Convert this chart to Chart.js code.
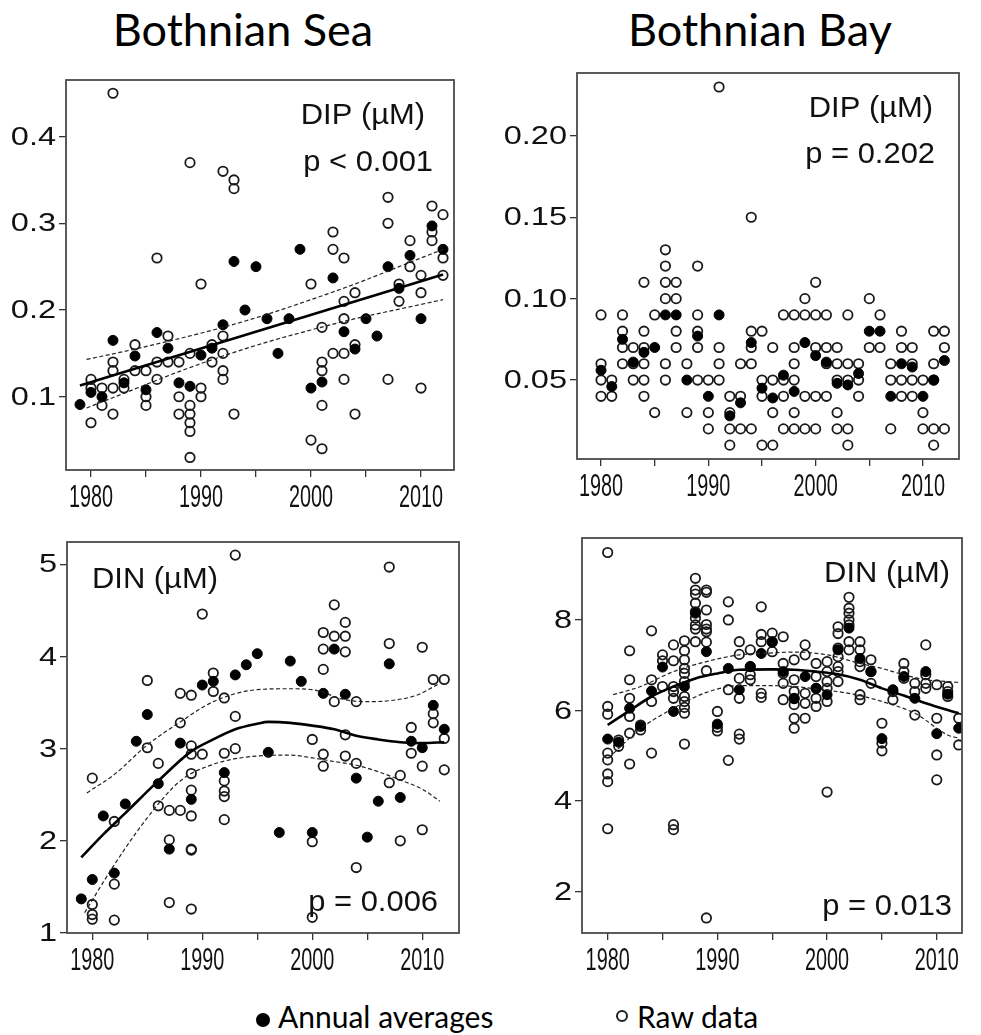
<!DOCTYPE html>
<html>
<head>
<meta charset="utf-8">
<script src="https://cdn.jsdelivr.net/npm/chart.js@4.4.1/dist/chart.umd.min.js"></script>
<style>
  html, body { margin: 0; padding: 0; background: #fff; }
  body { width: 981px; height: 1035px; position: relative; overflow: hidden; }
  .title { position: absolute; top: 2px; width: 440px; text-align: center; line-height: 54px;
           font-family: Lato, "Open Sans", sans-serif; font-size: 45px; color: #000; }
  canvas { position: absolute; }
  .leg { position: absolute; font-family: Lato, "Open Sans", sans-serif; font-size: 30px; line-height: 36px;
         color: #000; white-space: nowrap; }
  .mark { position: absolute; border-radius: 50%; box-sizing: border-box; }
</style>
</head>
<body>
<div class="title" style="left:23px">Bothnian Sea</div>
<div class="title" style="left:540px">Bothnian Bay</div>

<canvas id="seaDip"></canvas>
<canvas id="bayDip"></canvas>
<canvas id="seaDin"></canvas>
<canvas id="bayDin"></canvas>

<div class="mark" style="left:256px;top:1013px;width:14px;height:14px;background:#000"></div>
<div class="leg" style="left:278px;top:998px">Annual averages</div>
<div class="mark" style="left:616px;top:1010px;width:12px;height:12px;border:2px solid #222"></div>
<div class="leg" style="left:637px;top:998px">Raw data</div>

<script>
// ---- shared axis ticks ----
const YEAR_TICKS = [1980, 1985, 1990, 1995, 2000, 2005, 2010];
const YEAR_LABELS = [1980, 1990, 2000, 2010];

// ---- Bothnian Sea, DIP (µM) ----
const SEA_DIP_TICKS = [0.1, 0.2, 0.3, 0.4];
const SEA_DIP_RAW = [
  [1980, [0.12, 0.11, 0.07]], [1981, [0.11, 0.09]], [1982, [0.45, 0.14, 0.13, 0.11, 0.08]],
  [1983, [0.12, 0.11]], [1984, [0.16, 0.13]], [1985, [0.13, 0.10, 0.09]],
  [1986, [0.26, 0.14, 0.12]], [1987, [0.17, 0.14]], [1988, [0.14, 0.10, 0.08]],
  [1989, [0.37, 0.15, 0.09, 0.08, 0.07, 0.06, 0.03]], [1990, [0.23, 0.11, 0.10]],
  [1991, [0.16, 0.14]], [1992, [0.36, 0.17, 0.15, 0.13, 0.12]], [1993, [0.35, 0.34, 0.08]],
  [2000, [0.23, 0.05]], [2001, [0.18, 0.14, 0.13, 0.09, 0.04]], [2002, [0.29, 0.27, 0.15]],
  [2003, [0.26, 0.21, 0.19, 0.15, 0.12]], [2004, [0.22, 0.16, 0.08]],
  [2007, [0.33, 0.30, 0.12]], [2008, [0.23, 0.21]], [2009, [0.28, 0.25]],
  [2010, [0.24, 0.22, 0.11]], [2011, [0.32, 0.29, 0.28]], [2012, [0.31, 0.26, 0.24]]
];
const SEA_DIP_AVG_YEARS = [1979, 1980, 1981, 1982, 1983, 1984, 1985, 1986, 1987, 1988, 1989, 1990, 1991, 1992, 1993, 1994,
  1995, 1996, 1997, 1998, 1999, 2000, 2001, 2002, 2003, 2004, 2005, 2006, 2007, 2008, 2009, 2010, 2011, 2012];
const SEA_DIP_AVG = [0.091, 0.105, 0.100, 0.165, 0.116, 0.147, 0.108, 0.174, 0.156, 0.116, 0.112, 0.148, 0.156, 0.183, 0.256, 0.200,
  0.250, 0.190, 0.150, 0.190, 0.270, 0.110, 0.117, 0.237, 0.175, 0.155, 0.190, 0.170, 0.250, 0.225, 0.263, 0.190, 0.297, 0.270];
const SEA_DIP_FIT_YEARS = [1979, 2012];
const SEA_DIP_FIT = [0.113, 0.241];
const SEA_DIP_BAND_YEARS = [1979.6, 1984, 1988, 1992, 1996, 2000, 2004, 2008, 2012];
const SEA_DIP_UPPER = [0.143, 0.155, 0.167, 0.180, 0.195, 0.212, 0.230, 0.250, 0.270];
const SEA_DIP_LOWER = [0.087, 0.109, 0.129, 0.147, 0.163, 0.177, 0.190, 0.201, 0.212];

// ---- Bothnian Bay, DIP (µM) ----
const BAY_DIP_TICKS = [0.05, 0.10, 0.15, 0.20];
const BAY_DIP_RAW = [
  [1980, [0.09, 0.06, 0.05, 0.04]], [1981, [0.05, 0.04]], [1982, [0.09, 0.08, 0.07, 0.06]],
  [1983, [0.07, 0.06, 0.05]], [1984, [0.11, 0.08, 0.07, 0.06, 0.05, 0.04]], [1985, [0.09, 0.03]],
  [1986, [0.13, 0.12, 0.11, 0.10, 0.06, 0.05]], [1987, [0.11, 0.10, 0.08, 0.07]], [1988, [0.06, 0.03]],
  [1989, [0.12, 0.09, 0.08, 0.07, 0.05]], [1990, [0.05, 0.03, 0.02]], [1991, [0.23, 0.07, 0.06, 0.05]],
  [1992, [0.04, 0.03, 0.02, 0.01]], [1993, [0.06, 0.04, 0.02]], [1994, [0.15, 0.08, 0.07, 0.06, 0.02]],
  [1995, [0.08, 0.05, 0.04, 0.01]], [1996, [0.07, 0.05, 0.03, 0.01]], [1997, [0.09, 0.05, 0.04, 0.02]],
  [1998, [0.09, 0.07, 0.06, 0.05, 0.03, 0.02]], [1999, [0.10, 0.09, 0.04, 0.02]],
  [2000, [0.11, 0.09, 0.07, 0.04, 0.02]], [2001, [0.09, 0.07, 0.06, 0.04]],
  [2002, [0.07, 0.06, 0.05, 0.03, 0.02]], [2003, [0.09, 0.06, 0.05, 0.02, 0.01]],
  [2004, [0.06, 0.05, 0.04]], [2005, [0.10, 0.07]], [2006, [0.09, 0.07]], [2007, [0.06, 0.05, 0.02]],
  [2008, [0.08, 0.07, 0.05, 0.04]], [2009, [0.07, 0.06, 0.05, 0.04]], [2010, [0.05, 0.03, 0.02]],
  [2011, [0.08, 0.06, 0.05, 0.02, 0.01]], [2012, [0.08, 0.07, 0.02]]
];
const BAY_DIP_AVG_YEARS = [1980, 1981, 1982, 1983, 1984, 1985, 1986, 1987, 1988, 1989, 1990, 1991, 1992, 1993, 1994, 1995,
  1996, 1997, 1998, 1999, 2000, 2001, 2002, 2003, 2004, 2005, 2006, 2007, 2008, 2009, 2010, 2011, 2012];
const BAY_DIP_AVG = [0.056, 0.046, 0.075, 0.061, 0.067, 0.070, 0.090, 0.090, 0.050, 0.077, 0.040, 0.090, 0.028, 0.036, 0.073, 0.045,
  0.039, 0.053, 0.043, 0.073, 0.065, 0.061, 0.048, 0.047, 0.054, 0.080, 0.080, 0.040, 0.060, 0.058, 0.040, 0.050, 0.062];

// ---- Bothnian Sea, DIN (µM) ----
const SEA_DIN_TICKS = [1, 2, 3, 4, 5];
const SEA_DIN_RAW = [
  [1980, [2.68, 1.31, 1.20, 1.15]], [1982, [2.21, 1.53, 1.14]], [1985, [3.74, 3.01]], [1986, [2.84, 2.38]],
  [1987, [2.33, 2.01, 1.33]], [1988, [3.60, 3.28, 2.33]],
  [1989, [3.58, 3.03, 2.94, 2.73, 2.55, 2.27, 1.91, 1.90, 1.26]], [1990, [4.46, 2.94]], [1991, [3.82, 3.62]],
  [1992, [3.55, 2.95, 2.65, 2.54, 2.48, 2.23]], [1993, [5.10, 3.35, 3.00]],
  [2000, [3.10, 1.99, 1.17]], [2001, [4.26, 4.08, 3.86, 2.94, 2.81]], [2002, [4.56, 4.22, 3.51]],
  [2003, [4.37, 4.22, 4.05, 3.15, 2.92]], [2004, [3.51, 2.84, 1.71]], [2007, [4.97, 4.14, 2.63]],
  [2008, [2.71, 2.00]], [2009, [3.23, 2.95]], [2010, [4.10, 2.81, 2.12]], [2011, [3.75, 3.38, 3.28]],
  [2012, [3.75, 3.11, 2.77]]
];
const SEA_DIN_AVG_YEARS = [1979, 1980, 1981, 1982, 1983, 1984, 1985, 1986, 1987, 1988, 1989, 1990, 1991, 1992, 1993, 1994,
  1995, 1996, 1997, 1998, 1999, 2000, 2001, 2002, 2003, 2004, 2005, 2006, 2007, 2008, 2009, 2010, 2011, 2012];
const SEA_DIN_AVG = [1.37, 1.58, 2.27, 1.65, 2.40, 3.08, 3.37, 2.62, 1.91, 3.06, 2.45, 3.69, 3.73, 2.74, 3.80, 3.91,
  4.03, 2.96, 2.09, 3.95, 3.73, 2.09, 3.60, 4.08, 3.59, 2.68, 2.04, 2.43, 3.92, 2.47, 3.08, 3.01, 3.47, 3.21];
const SEA_DIN_FIT_YEARS = [1979, 1981, 1983, 1986, 1989, 1991, 1993, 1995, 1996, 1998, 2000, 2002, 2004, 2006, 2008, 2010, 2012];
const SEA_DIN_FIT = [1.82, 2.07, 2.30, 2.65, 2.97, 3.10, 3.21, 3.27, 3.29, 3.28, 3.25, 3.21, 3.14, 3.10, 3.07, 3.06, 3.07];
const SEA_DIN_UPPER_YEARS = [1979.5, 1982, 1985, 1988, 1991, 1995, 1998, 2000, 2003, 2005, 2007, 2009.5, 2011.6];
const SEA_DIN_UPPER = [2.52, 2.72, 3.04, 3.29, 3.51, 3.64, 3.65, 3.64, 3.53, 3.51, 3.52, 3.58, 3.71];
const SEA_DIN_LOWER_YEARS = [1979.3, 1982, 1985, 1988, 1991, 1995, 1998, 2000, 2002, 2004, 2006, 2008, 2010, 2011.6];
const SEA_DIN_LOWER = [1.22, 1.74, 2.25, 2.65, 2.83, 2.92, 2.93, 2.90, 2.86, 2.82, 2.75, 2.66, 2.56, 2.43];

// ---- Bothnian Bay, DIN (µM) ----
const BAY_DIN_TICKS = [2, 4, 6, 8];
const BAY_DIN_RAW = [
  [1980, [9.49, 6.09, 5.92, 5.06, 4.91, 4.60, 4.43, 3.39]], [1981, [5.35, 5.21]],
  [1982, [7.32, 6.68, 6.27, 5.87, 5.50, 4.82]], [1983, [5.68, 5.57]], [1984, [7.76, 6.68, 6.20, 5.06]],
  [1985, [7.23, 7.10, 6.53]], [1986, [7.45, 7.10, 6.53, 6.42, 6.27, 3.48, 3.37]],
  [1987, [7.54, 7.32, 7.12, 6.93, 6.82, 6.64, 6.31, 6.20, 6.07, 5.94, 5.26]],
  [1988, [8.92, 8.66, 8.57, 8.37, 8.18, 8.04, 7.89, 7.80, 7.52]],
  [1989, [8.66, 8.61, 8.22, 7.90, 7.80, 7.74, 7.51, 6.88, 1.42]], [1990, [5.98, 5.63, 5.55]],
  [1991, [8.40, 8.00, 6.46, 4.90]], [1992, [7.52, 7.24, 6.71, 6.27, 5.48, 5.37]],
  [1993, [7.34, 6.97, 6.79, 6.68]], [1994, [8.29, 7.68, 7.52, 6.38, 6.29]], [1995, [7.71, 7.52, 7.30]],
  [1996, [7.63, 7.04, 6.82, 6.60, 6.24]], [1997, [7.12, 6.68, 6.42, 6.27, 6.13, 5.83, 5.61]],
  [1998, [7.45, 7.23, 6.38, 6.16, 5.83]], [1999, [7.04, 6.75, 6.49, 6.27, 6.09]],
  [2000, [7.08, 6.86, 6.64, 6.49, 6.20, 4.20]], [2001, [7.85, 7.70, 7.38, 7.19, 6.97, 6.86, 6.64]],
  [2002, [8.50, 8.26, 8.15, 8.00, 7.89, 7.52, 7.34]], [2003, [7.52, 7.34, 7.08, 6.97, 6.35, 6.24]],
  [2004, [7.12, 6.86, 6.60]], [2005, [5.72, 5.28, 5.11]], [2006, [6.42, 6.24]], [2007, [7.04, 6.86, 6.71]],
  [2008, [6.60, 6.42, 5.90]], [2009, [7.45, 6.79, 6.60, 6.49]], [2010, [6.57, 5.83, 5.02, 4.47]],
  [2011, [6.53, 6.42, 6.31]], [2012, [5.83, 5.24]]
];
const BAY_DIN_AVG_YEARS = [1980, 1981, 1982, 1983, 1984, 1985, 1986, 1987, 1988, 1989, 1990, 1991, 1992, 1993, 1994, 1995,
  1996, 1997, 1998, 1999, 2000, 2001, 2002, 2003, 2004, 2005, 2006, 2007, 2008, 2009, 2010, 2011, 2012];
const BAY_DIN_AVG = [5.37, 5.30, 6.05, 5.65, 6.43, 6.96, 5.98, 6.53, 8.15, 7.30, 5.70, 6.93, 6.46, 6.97, 7.26, 7.51,
  6.86, 6.26, 6.75, 6.49, 6.35, 7.34, 7.82, 7.15, 6.86, 5.38, 6.46, 6.75, 6.27, 6.86, 5.49, 6.36, 5.61];
const BAY_DIN_FIT_YEARS = [1980, 1982, 1984, 1986, 1988, 1990, 1992, 1995, 1997, 1999, 2001, 2003, 2005, 2007, 2009, 2011, 2012];
const BAY_DIN_FIT = [5.68, 6.00, 6.31, 6.53, 6.71, 6.82, 6.90, 6.91, 6.90, 6.86, 6.80, 6.68, 6.49, 6.33, 6.16, 6.01, 5.94];
const BAY_DIN_UPPER_YEARS = [1980.5, 1983, 1986, 1989, 1992, 1994, 1997, 2000, 2003, 2005, 2007, 2009, 2011, 2012];
const BAY_DIN_UPPER = [6.35, 6.53, 6.86, 7.08, 7.23, 7.26, 7.29, 7.23, 7.04, 6.93, 6.79, 6.68, 6.64, 6.62];
const BAY_DIN_LOWER_YEARS = [1980.5, 1983, 1986, 1989, 1992, 1995, 2000, 2003, 2005, 2008, 2011, 2012];
const BAY_DIN_LOWER = [5.05, 5.60, 6.05, 6.40, 6.55, 6.55, 6.45, 6.33, 6.20, 5.94, 5.46, 5.39];

// ---- helpers ----
const pairs = (xs, ys) => xs.map((x, i) => ({ x: x, y: ys[i] }));
const expand = raw => raw.flatMap(([yr, vals]) => vals.map(v => ({ x: yr, y: v })));

// margins of each canvas around its plotting box
const PAD_L = 74, PAD_T = 14, PAD_R = 16, PAD_B = 54;
const INK = '#111';

const PANELS = [
  { id: 'seaDip', box: { l: 66, t: 80, r: 454, b: 470 }, x: [1977.73, 2013.0], y: [0.0155, 0.4653],
    yTicks: SEA_DIP_TICKS, digits: 1, raw: SEA_DIP_RAW, avg: pairs(SEA_DIP_AVG_YEARS, SEA_DIP_AVG),
    fit: pairs(SEA_DIP_FIT_YEARS, SEA_DIP_FIT),
    upper: pairs(SEA_DIP_BAND_YEARS, SEA_DIP_UPPER), lower: pairs(SEA_DIP_BAND_YEARS, SEA_DIP_LOWER),
    notes: [{ text: 'DIP (\u00b5M)', x: 425, y: 124, align: 'right' }, { text: 'p < 0.001', x: 433, y: 171, align: 'right' }] },
  { id: 'bayDip', box: { l: 577, t: 73, r: 959, b: 459 }, x: [1977.76, 2013.36], y: [0.0015, 0.2386],
    yTicks: BAY_DIP_TICKS, digits: 2, raw: BAY_DIP_RAW, avg: pairs(BAY_DIP_AVG_YEARS, BAY_DIP_AVG),
    notes: [{ text: 'DIP (\u00b5M)', x: 933, y: 117, align: 'right' }, { text: 'p = 0.202', x: 935, y: 163, align: 'right' }] },
  { id: 'seaDin', box: { l: 67, t: 542, r: 459, b: 933 }, x: [1977.7, 2013.34], y: [1.0, 5.242],
    yTicks: SEA_DIN_TICKS, digits: 0, raw: SEA_DIN_RAW, avg: pairs(SEA_DIN_AVG_YEARS, SEA_DIN_AVG),
    fit: pairs(SEA_DIN_FIT_YEARS, SEA_DIN_FIT),
    upper: pairs(SEA_DIN_UPPER_YEARS, SEA_DIN_UPPER), lower: pairs(SEA_DIN_LOWER_YEARS, SEA_DIN_LOWER),
    notes: [{ text: 'DIN (\u00b5M)', x: 92, y: 588, align: 'left' }, { text: 'p = 0.006', x: 438, y: 911, align: 'right' }] },
  { id: 'bayDin', box: { l: 582, t: 538, r: 962, b: 933 }, x: [1977.66, 2012.3], y: [1.088, 9.81],
    yTicks: BAY_DIN_TICKS, digits: 0, raw: BAY_DIN_RAW, avg: pairs(BAY_DIN_AVG_YEARS, BAY_DIN_AVG),
    fit: pairs(BAY_DIN_FIT_YEARS, BAY_DIN_FIT),
    upper: pairs(BAY_DIN_UPPER_YEARS, BAY_DIN_UPPER), lower: pairs(BAY_DIN_LOWER_YEARS, BAY_DIN_LOWER),
    notes: [{ text: 'DIN (\u00b5M)', x: 950, y: 582, align: 'right' }, { text: 'p = 0.013', x: 952, y: 915, align: 'right' }] }
];

// frame, stretched tick labels and in-panel annotations
const panelDecor = {
  id: 'panelDecor',
  afterDatasetsDraw(chart, args, o) {
    const ctx = chart.ctx, ca = chart.chartArea;
    const xs = chart.scales.x, ys = chart.scales.y;
    ctx.save();
    ctx.strokeStyle = '#4a4a4a';
    ctx.lineWidth = 1.8;
    ctx.strokeRect(ca.left, ca.top, ca.right - ca.left, ca.bottom - ca.top);

    ctx.fillStyle = INK;
    ctx.font = '26px "Liberation Sans", Arial, sans-serif';
    ctx.textAlign = 'right';
    ctx.textBaseline = 'middle';
    o.yTicks.forEach(v => {
      ctx.save();
      ctx.translate(ca.left - 10, ys.getPixelForValue(v) + 1);
      ctx.scale(1.25, 1);
      ctx.fillText(v.toFixed(o.digits), 0, 0);
      ctx.restore();
    });

    ctx.font = '32px "Liberation Sans", Arial, sans-serif';
    ctx.textAlign = 'center';
    ctx.textBaseline = 'top';
    YEAR_LABELS.forEach(v => {
      ctx.save();
      ctx.translate(xs.getPixelForValue(v), ca.bottom + 12);
      ctx.scale(0.62, 1);
      ctx.fillText(String(v), 0, 0);
      ctx.restore();
    });

    ctx.font = '30px "Liberation Sans", Arial, sans-serif';
    ctx.textBaseline = 'alphabetic';
    o.notes.forEach(n => {
      ctx.save();
      ctx.textAlign = n.align;
      ctx.translate(n.x - o.ox, n.y - o.oy);
      ctx.scale(1.03, 1);
      ctx.fillText(n.text, 0, 0);
      ctx.restore();
    });
    ctx.restore();
  }
};

PANELS.forEach(p => {
  const cv = document.getElementById(p.id);
  const W = p.box.r - p.box.l + PAD_L + PAD_R;
  const H = p.box.b - p.box.t + PAD_T + PAD_B;
  const ox = p.box.l - PAD_L, oy = p.box.t - PAD_T;
  cv.width = W; cv.height = H;
  cv.style.left = ox + 'px'; cv.style.top = oy + 'px';
  cv.style.width = W + 'px'; cv.style.height = H + 'px';

  const datasets = [];
  if (p.fit) {
    datasets.push({ data: p.fit, showLine: true, borderColor: '#000', borderWidth: 2.6, pointRadius: 0,
                    tension: 0.4, cubicInterpolationMode: 'monotone', fill: false });
    [p.upper, p.lower].forEach(band => datasets.push({
      data: band, showLine: true, borderColor: '#222', borderWidth: 1.2, borderDash: [4, 2.5], pointRadius: 0,
      tension: 0.4, cubicInterpolationMode: 'monotone', fill: false }));
  }
  datasets.push({ data: p.avg, pointRadius: 5.0, pointBackgroundColor: '#000', pointBorderColor: '#000',
                  pointBorderWidth: 1, showLine: false });
  datasets.push({ data: expand(p.raw), pointRadius: 4.7, pointBackgroundColor: 'rgba(255,255,255,0)',
                  pointBorderColor: '#1a1a1a', pointBorderWidth: 1.8, showLine: false });

  const axisGrid = { drawOnChartArea: false, drawTicks: true, tickLength: 7, color: '#333', lineWidth: 1.3 };
  new Chart(cv, {
    type: 'scatter',
    data: { datasets },
    options: {
      responsive: false, animation: false, devicePixelRatio: 1, events: [],
      layout: { padding: { left: 0, top: PAD_T, right: PAD_R, bottom: 0 } },
      plugins: { legend: { display: false }, tooltip: { enabled: false },
                 panelDecor: { yTicks: p.yTicks, digits: p.digits, notes: p.notes, ox, oy } },
      scales: {
        x: { type: 'linear', min: p.x[0], max: p.x[1],
             afterBuildTicks: s => { s.ticks = YEAR_TICKS.map(v => ({ value: v })); },
             afterFit: s => { s.height = PAD_B; },
             ticks: { display: false }, grid: axisGrid, border: { display: false } },
        y: { type: 'linear', min: p.y[0], max: p.y[1],
             afterBuildTicks: s => { s.ticks = p.yTicks.map(v => ({ value: v })); },
             afterFit: s => { s.width = PAD_L; },
             ticks: { display: false }, grid: axisGrid, border: { display: false } }
      }
    },
    plugins: [panelDecor]
  });
});
</script>
</body>
</html>
